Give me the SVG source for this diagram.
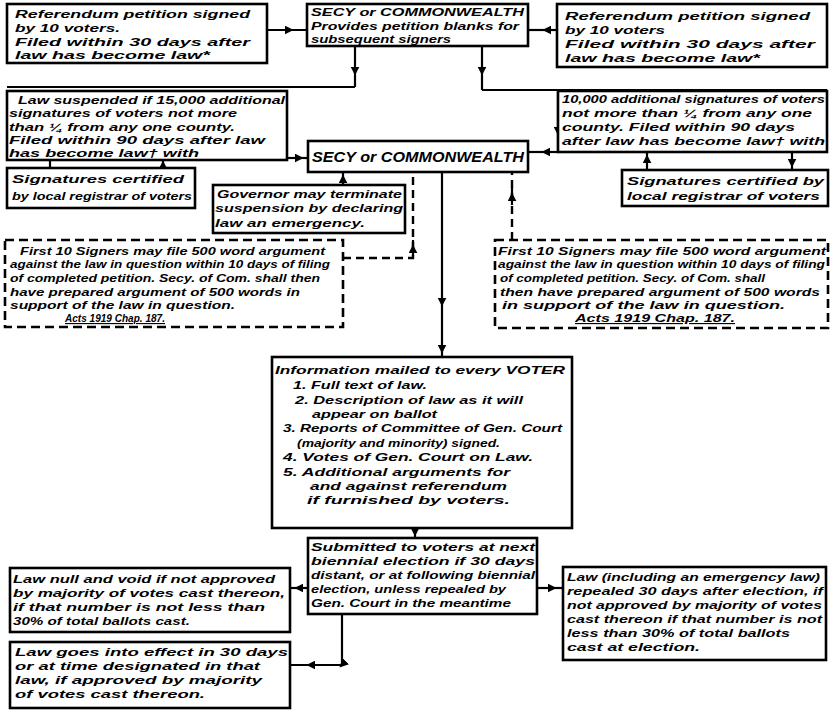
<svg xmlns="http://www.w3.org/2000/svg" width="832" height="710" viewBox="0 0 832 710">
<defs>
<style>
.t{font-family:"Liberation Sans",Arial,sans-serif;font-style:italic;font-weight:bold;font-size:11.5px;fill:#000}
.big{font-size:15px}
.u{text-decoration:underline}
.box{fill:#fff;stroke:#000;stroke-width:2.6}
.dbox{fill:#fff;stroke:#000;stroke-width:2.6;stroke-dasharray:9 5}
.c{fill:none;stroke:#000;stroke-width:2.2}
.cd{fill:none;stroke:#000;stroke-width:2.4;stroke-dasharray:8 5}
</style>
<marker id="a" viewBox="0 0 10 10" refX="6" refY="5" markerWidth="9" markerHeight="9" markerUnits="userSpaceOnUse" orient="auto">
<path d="M0,0 L10,5 L0,10 z" fill="#000"/>
</marker>
</defs>
<rect width="832" height="710" fill="#fff"/>

<g id="connectors">
<path class="c" d="M267,30 L290,30 L307,30" marker-mid="url(#a)"/>
<path class="c" d="M557,30 L546,30 L528,30" marker-mid="url(#a)"/>
<path class="c" d="M355,46 L355,72 L355,87" marker-mid="url(#a)"/>
<path class="c" d="M355,87 L7,87"/>
<path class="c" d="M482,46 L482,72 L482,90" marker-mid="url(#a)"/>
<path class="c" d="M482,90 L827,90"/>
<path class="c" d="M287,158 L300,158 L308,158" marker-mid="url(#a)"/>
<path class="c" d="M558,92 L558,132 L558,152" marker-mid="url(#a)"/>
<path class="c" d="M558,152 L545,152 L528,152" marker-mid="url(#a)"/>
<path class="c" d="M50,160 L50,168"/>
<path class="c" d="M163,168 L163,164 L163,160" marker-mid="url(#a)"/>
<path class="c" d="M647,170 L647,158 L647,152" marker-mid="url(#a)"/>
<path class="c" d="M792,152 L792,164 L792,170" marker-mid="url(#a)"/>
<path class="c" d="M343,185 L343,178 L343,172" marker-mid="url(#a)"/>
<path class="cd" d="M343,258 L413,258 L413,250"/>
<path class="cd" d="M413,250 L413,172"/>
<path class="c" d="M413,256 L413,248 L413,240" marker-mid="url(#a)" stroke-width="0"/>
<path class="cd" d="M512,240 L512,172"/>
<path class="c" d="M512,205 L512,196 L512,186" marker-mid="url(#a)" stroke-width="0"/>
<path class="c" d="M442,172 L442,303 L442,350 L442,357" marker-mid="url(#a)"/>
<path class="c" d="M415,528 L415,533 L415,538" marker-mid="url(#a)"/>
<path class="c" d="M308,588 L298,588 L290,588" marker-mid="url(#a)"/>
<path class="c" d="M537,588 L553,588 L563,588" marker-mid="url(#a)"/>
<path class="c" d="M342,614 L342,665 L310,665 L290,665" marker-mid="url(#a)"/>
</g>

<g id="n-top-left">
<rect class="box" x="7" y="4" width="260" height="59"/>
<text class="t" x="15" y="18" textLength="235" lengthAdjust="spacingAndGlyphs">Referendum petition signed</text>
<text class="t" x="15" y="32" textLength="105" lengthAdjust="spacingAndGlyphs">by 10 voters.</text>
<text class="t" x="15" y="46" textLength="235" lengthAdjust="spacingAndGlyphs">Filed within 30 days after</text>
<text class="t" x="15" y="59" textLength="195" lengthAdjust="spacingAndGlyphs">law has become law*</text>
</g>

<g id="n-secy-top">
<rect class="box" x="307" y="4" width="221" height="42"/>
<text class="t" x="311" y="16" textLength="213" lengthAdjust="spacingAndGlyphs">SECY or COMMONWEALTH</text>
<text class="t" x="311" y="30" textLength="208" lengthAdjust="spacingAndGlyphs">Provides petition blanks for</text>
<text class="t" x="311" y="43" textLength="140" lengthAdjust="spacingAndGlyphs">subsequent signers</text>
</g>

<g id="n-top-right">
<rect class="box" x="557" y="4" width="270" height="63"/>
<text class="t" x="565" y="20" textLength="245" lengthAdjust="spacingAndGlyphs">Referendum petition signed</text>
<text class="t" x="565" y="34" textLength="100" lengthAdjust="spacingAndGlyphs">by 10 voters</text>
<text class="t" x="565" y="48" textLength="250" lengthAdjust="spacingAndGlyphs">Filed within 30 days after</text>
<text class="t" x="565" y="62" textLength="195" lengthAdjust="spacingAndGlyphs">law has become law*</text>
</g>

<g id="n-law-suspended">
<rect class="box" x="7" y="91" width="280" height="69"/>
<text class="t" x="18" y="104" textLength="267" lengthAdjust="spacingAndGlyphs">Law suspended if 15,000 additional</text>
<text class="t" x="9" y="117" textLength="228" lengthAdjust="spacingAndGlyphs">signatures of voters not more</text>
<text class="t" x="9" y="131" textLength="226" lengthAdjust="spacingAndGlyphs">than ¼ from any one county.</text>
<text class="t" x="9" y="144" textLength="256" lengthAdjust="spacingAndGlyphs">Filed within 90 days after law</text>
<text class="t" x="9" y="157" textLength="190" lengthAdjust="spacingAndGlyphs">has become law† with</text>
</g>

<g id="n-10000">
<rect class="box" x="558" y="91" width="269" height="61"/>
<text class="t" x="562" y="103" textLength="263" lengthAdjust="spacingAndGlyphs">10,000 additional signatures of voters</text>
<text class="t" x="562" y="117" textLength="250" lengthAdjust="spacingAndGlyphs">not more than ¼ from any one</text>
<text class="t" x="562" y="131" textLength="233" lengthAdjust="spacingAndGlyphs">county. Filed within 90 days</text>
<text class="t" x="562" y="145" textLength="263" lengthAdjust="spacingAndGlyphs">after law has become law† with</text>
</g>

<g id="n-secy-mid">
<rect class="box" x="308" y="141" width="220" height="31"/>
<text class="t big" x="312" y="162" textLength="212" lengthAdjust="spacingAndGlyphs">SECY or COMMONWEALTH</text>
</g>

<g id="n-sig-left">
<rect class="box" x="7" y="168" width="188" height="40"/>
<text class="t" x="12" y="183" textLength="172" lengthAdjust="spacingAndGlyphs">Signatures certified</text>
<text class="t" x="12" y="200" textLength="180" lengthAdjust="spacingAndGlyphs">by local registrar of voters</text>
</g>

<g id="n-sig-right">
<rect class="box" x="622" y="170" width="206" height="36"/>
<text class="t" x="627" y="185" textLength="197" lengthAdjust="spacingAndGlyphs">Signatures certified by</text>
<text class="t" x="627" y="200" textLength="193" lengthAdjust="spacingAndGlyphs">local registrar of voters</text>
</g>

<g id="n-governor">
<rect class="box" x="213" y="185" width="192" height="48"/>
<text class="t" x="217" y="198" textLength="185" lengthAdjust="spacingAndGlyphs">Governor may terminate</text>
<text class="t" x="215" y="212" textLength="188" lengthAdjust="spacingAndGlyphs">suspension by declaring</text>
<text class="t" x="215" y="227" textLength="150" lengthAdjust="spacingAndGlyphs">law an emergency.</text>
</g>

<g id="n-dashed-left">
<rect class="dbox" x="5" y="240" width="338" height="87"/>
<text class="t" x="20" y="255" textLength="305" lengthAdjust="spacingAndGlyphs">First 10 Signers may file 500 word argument</text>
<text class="t" x="10" y="268" textLength="320" lengthAdjust="spacingAndGlyphs">against the law in question within 10 days of filing</text>
<text class="t" x="10" y="282" textLength="310" lengthAdjust="spacingAndGlyphs">of completed petition. Secy. of Com. shall then</text>
<text class="t" x="10" y="296" textLength="290" lengthAdjust="spacingAndGlyphs">have prepared argument of 500 words in</text>
<text class="t" x="10" y="309" textLength="225" lengthAdjust="spacingAndGlyphs">support of the law in question.</text>
<text class="t u" x="65" y="322" textLength="100" lengthAdjust="spacingAndGlyphs">Acts 1919 Chap. 187.</text>
</g>

<g id="n-dashed-right">
<rect class="dbox" x="495" y="240" width="333" height="88"/>
<text class="t" x="498" y="255" textLength="328" lengthAdjust="spacingAndGlyphs">First 10 Signers may file 500 word argument</text>
<text class="t" x="498" y="268" textLength="327" lengthAdjust="spacingAndGlyphs">against the law in question within 10 days of filing</text>
<text class="t" x="500" y="282" textLength="265" lengthAdjust="spacingAndGlyphs">of completed petition. Secy. of Com. shall</text>
<text class="t" x="500" y="296" textLength="320" lengthAdjust="spacingAndGlyphs">then have prepared argument of 500 words</text>
<text class="t" x="502" y="309" textLength="283" lengthAdjust="spacingAndGlyphs">in support of the law in question.</text>
<text class="t u" x="575" y="322" textLength="160" lengthAdjust="spacingAndGlyphs">Acts 1919 Chap. 187.</text>
</g>

<g id="n-info">
<rect class="box" x="272" y="357" width="300" height="171"/>
<text class="t" x="275" y="374" textLength="290" lengthAdjust="spacingAndGlyphs">Information mailed to every VOTER</text>
<text class="t" x="293" y="389" textLength="134" lengthAdjust="spacingAndGlyphs">1. Full text of law.</text>
<text class="t" x="295" y="404" textLength="228" lengthAdjust="spacingAndGlyphs">2. Description of law as it will</text>
<text class="t" x="312" y="418" textLength="125" lengthAdjust="spacingAndGlyphs">appear on ballot</text>
<text class="t" x="283" y="432" textLength="279" lengthAdjust="spacingAndGlyphs">3. Reports of Committee of Gen. Court</text>
<text class="t" x="297" y="447" textLength="203" lengthAdjust="spacingAndGlyphs">(majority and minority) signed.</text>
<text class="t" x="283" y="461" textLength="250" lengthAdjust="spacingAndGlyphs">4. Votes of Gen. Court on Law.</text>
<text class="t" x="283" y="476" textLength="227" lengthAdjust="spacingAndGlyphs">5. Additional arguments for</text>
<text class="t" x="310" y="490" textLength="197" lengthAdjust="spacingAndGlyphs">and against referendum</text>
<text class="t" x="307" y="504" textLength="203" lengthAdjust="spacingAndGlyphs">if furnished by voters.</text>
</g>

<g id="n-submitted">
<rect class="box" x="308" y="538" width="229" height="76"/>
<text class="t" x="311" y="551" textLength="224" lengthAdjust="spacingAndGlyphs">Submitted to voters at next</text>
<text class="t" x="311" y="565" textLength="224" lengthAdjust="spacingAndGlyphs">biennial election if 30 days</text>
<text class="t" x="311" y="579" textLength="224" lengthAdjust="spacingAndGlyphs">distant, or at following biennial</text>
<text class="t" x="311" y="593" textLength="195" lengthAdjust="spacingAndGlyphs">election, unless repealed by</text>
<text class="t" x="311" y="607" textLength="200" lengthAdjust="spacingAndGlyphs">Gen. Court in the meantime</text>
</g>

<g id="n-law-null">
<rect class="box" x="10" y="568" width="280" height="64"/>
<text class="t" x="13" y="583" textLength="262" lengthAdjust="spacingAndGlyphs">Law null and void if not approved</text>
<text class="t" x="13" y="597" textLength="272" lengthAdjust="spacingAndGlyphs">by majority of votes cast thereon,</text>
<text class="t" x="13" y="611" textLength="252" lengthAdjust="spacingAndGlyphs">if that number is not less than</text>
<text class="t" x="13" y="625" textLength="177" lengthAdjust="spacingAndGlyphs">30% of total ballots cast.</text>
</g>

<g id="n-law-effect">
<rect class="box" x="10" y="642" width="280" height="66"/>
<text class="t" x="15" y="656" textLength="273" lengthAdjust="spacingAndGlyphs">Law goes into effect in 30 days</text>
<text class="t" x="15" y="670" textLength="245" lengthAdjust="spacingAndGlyphs">or at time designated in that</text>
<text class="t" x="15" y="684" textLength="247" lengthAdjust="spacingAndGlyphs">law, if approved by majority</text>
<text class="t" x="15" y="698" textLength="190" lengthAdjust="spacingAndGlyphs">of votes cast thereon.</text>
</g>

<g id="n-law-repealed">
<rect class="box" x="563" y="567" width="263" height="93"/>
<text class="t" x="567" y="581" textLength="253" lengthAdjust="spacingAndGlyphs">Law (including an emergency law)</text>
<text class="t" x="567" y="595" textLength="256" lengthAdjust="spacingAndGlyphs">repealed 30 days after election, if</text>
<text class="t" x="567" y="609" textLength="255" lengthAdjust="spacingAndGlyphs">not approved by majority of votes</text>
<text class="t" x="567" y="623" textLength="255" lengthAdjust="spacingAndGlyphs">cast thereon if that number is not</text>
<text class="t" x="567" y="637" textLength="223" lengthAdjust="spacingAndGlyphs">less than 30% of total ballots</text>
<text class="t" x="567" y="651" textLength="133" lengthAdjust="spacingAndGlyphs">cast at election.</text>
</g>
</svg>
